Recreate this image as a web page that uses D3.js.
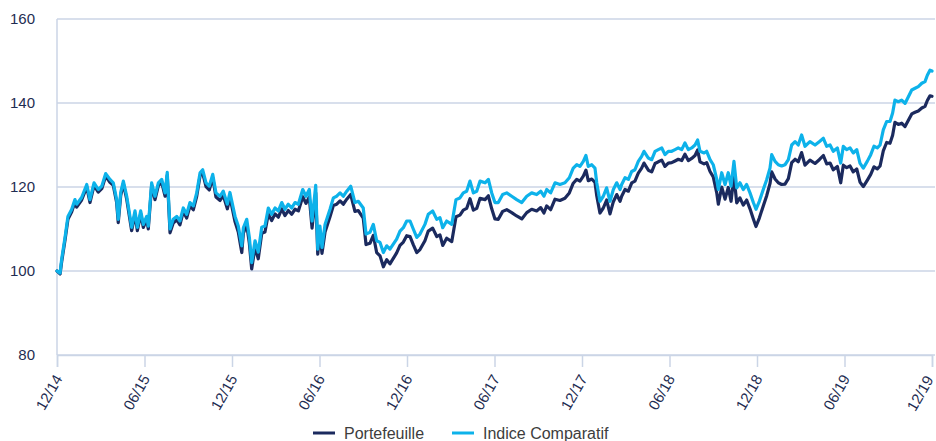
<!DOCTYPE html>
<html>
<head>
<meta charset="utf-8">
<script src="https://cdn.jsdelivr.net/npm/d3@7/dist/d3.min.js"></script>
<style>
  html, body { margin: 0; padding: 0; background: #fff; }
  svg { display: block; font-family: "Liberation Sans", Arial, Helvetica, sans-serif; }
</style>
</head>
<body>
<svg id="chart" width="936" height="441"></svg>
<script>
// Months since 12/2014
const months = [0,0.21,0.32,0.55,0.75,1.01,1.23,1.35,1.69,2.04,2.26,2.54,2.83,3.07,3.34,3.63,3.86,4.09,4.20,4.37,4.55,4.78,5.12,5.35,5.51,5.74,5.92,6.15,6.26,6.49,6.72,6.95,7.18,7.41,7.56,7.75,7.97,8.21,8.43,8.66,8.89,9.12,9.35,9.58,9.81,9.99,10.22,10.44,10.68,10.90,11.18,11.40,11.68,11.86,12.21,12.43,12.67,12.78,13.01,13.19,13.35,13.58,13.80,14.04,14.26,14.49,14.72,14.95,15.18,15.41,15.63,15.86,16.09,16.32,16.55,16.85,17.07,17.30,17.49,17.74,17.88,18.03,18.17,18.38,18.72,18.95,19.18,19.41,19.63,19.87,20.14,20.43,20.66,21.00,21.19,21.46,21.69,21.92,22.15,22.38,22.61,22.83,23.06,23.29,23.52,23.75,23.98,24.21,24.43,24.67,24.89,25.23,25.46,25.76,26.04,26.26,26.45,26.72,27.07,27.36,27.63,27.86,28.09,28.32,28.55,28.78,29.01,29.35,29.58,29.81,30.03,30.26,30.56,30.84,31.18,31.52,31.87,32.21,32.55,32.89,33.17,33.39,33.58,33.85,34.15,34.49,34.83,35.13,35.40,35.64,35.86,36.09,36.27,36.43,36.67,36.89,37.01,37.23,37.46,37.69,37.92,38.15,38.38,38.61,38.72,38.95,39.18,39.41,39.63,39.86,40.09,40.25,40.55,40.78,41.01,41.23,41.47,41.69,41.92,42.15,42.38,42.60,42.84,43.06,43.29,43.52,43.75,43.93,44.09,44.37,44.55,44.78,45.00,45.24,45.35,45.58,45.81,46.03,46.22,46.42,46.61,46.83,47.06,47.29,47.52,47.75,47.93,48.16,48.43,48.67,48.89,49.01,49.24,49.46,49.69,49.92,50.15,50.38,50.61,50.83,51.06,51.29,51.63,51.98,52.27,52.55,52.78,53.01,53.23,53.51,53.74,53.92,54.15,54.38,54.60,54.84,55.06,55.29,55.56,55.80,56.02,56.25,56.44,56.66,56.89,57.12,57.30,57.46,57.69,57.92,58.15,58.38,58.61,58.84,59.06,59.30,59.52,59.68,59.86,60.00];

const indiceComparatif = [100,99.5,102.8,108,113,114.7,117,115.9,117.5,120.6,117,121,119.4,120.2,123.2,121.8,121,117,112.3,118.7,121.4,117.8,110.4,114.3,110.4,114.3,111.1,113,110.7,121,117.8,121,121.8,118.6,123.5,110,112.3,113,111.9,115,113.5,116.3,115.5,118.6,123.4,124.1,121,120.2,123,118.6,117.8,119,115.9,118.7,113,110.7,106,110.3,112.3,108,102,107.2,104.5,110.4,110.7,115,113.5,115,114.3,116.3,114.7,115.9,115,116.3,115.9,119.4,117.8,119.4,111.9,120.4,105.2,110.7,105.6,111.1,114.7,117.4,117.8,118.6,117.8,119,120.2,116.3,116.6,115,108.8,109.2,111.1,107.2,106.8,104.4,106,105.2,106.4,107.6,109.5,110.3,111.9,111.9,110,108,108.8,111.1,113.5,114.3,112.3,112.7,110.3,111.9,111.1,117,117.4,118.6,119,121.4,118.6,119,121.4,121,121.8,118.6,116.3,116.3,118.2,118.6,117.8,117,116.3,117.8,118.6,118.2,119,117.8,119.4,118.6,121,120.6,121,122.2,124.5,125.3,124.9,126.1,127.5,124.9,125.3,124.5,121,116.6,117.8,119.8,116.6,119.4,121,119.4,120.6,122.2,121.8,123.7,124.1,126.1,127.3,128.5,126.9,126.5,128.5,128.9,129.3,127.7,128.5,128.5,128.9,129.3,128.9,130.5,128.9,129.3,130,131.2,128.5,128.1,128.5,126.5,125.3,121.8,119.4,123.4,120.6,123.4,120.2,126.1,119.8,121,119.4,120.6,118.6,116.3,114.7,116.6,119.4,121.8,124.5,127.7,126.1,125.3,125,125.3,126.5,130,130.8,130,132.4,129.7,130.8,130,130.8,131.6,129.7,130,128.5,129.3,125.7,129.7,128.9,129.3,128.1,128.9,125.7,124.5,126.1,127.7,129.7,129.3,130,133.6,135.6,135.6,137.6,140.7,140.3,140.7,139.9,141.5,143.1,143.5,143.9,144.7,145.1,146.6,147.8,147.6];

const portefeuille = [100,99.3,102.2,107.4,112.3,114.1,116.4,115.2,116.9,120.0,116.3,120.4,118.8,119.6,122.6,121.1,120.4,116.3,111.5,118.0,120.8,117.1,109.6,113.6,109.6,113.6,110.4,112.3,110.0,120.3,117.0,120.3,121.1,117.8,122.8,109.1,111.4,112.2,111.0,114.2,112.6,115.5,114.6,117.8,122.7,123.3,120.1,119.3,122.2,117.6,116.8,118.0,114.8,117.6,111.7,109.3,104.4,109.0,111.0,106.6,100.5,105.7,102.9,109.0,109.3,113.6,112.0,113.6,112.8,114.8,113.2,114.4,113.5,114.7,114.3,117.7,116.1,117.6,110.2,118.6,104.0,109.0,104.2,109.3,112.9,115.6,115.9,116.7,115.9,117.1,118.2,114.2,114.4,112.6,106.3,106.6,108.5,104.4,103.6,101.0,102.7,101.7,103.0,104.3,106.1,106.9,108.4,108.2,106.3,104.4,105.1,107.2,109.5,110.2,108.2,108.6,106.1,107.8,107.0,112.9,113.3,114.5,114.9,117.2,114.5,114.9,117.3,117.0,117.9,114.8,112.4,112.3,114.2,114.6,113.9,113.1,112.4,113.9,114.7,114.3,115.1,113.8,115.5,114.6,117.1,116.8,117.3,118.6,120.9,121.8,121.4,122.6,124.0,121.5,121.9,121.1,117.9,113.8,115.0,116.9,113.6,116.5,118.2,116.6,117.8,119.4,119.0,121.0,121.4,123.3,124.5,125.7,124.0,123.6,125.6,126.0,126.4,124.9,125.7,125.8,126.2,126.6,126.3,127.8,126.3,126.8,127.5,128.8,126.0,125.5,125.8,123.7,122.4,118.6,115.9,120.0,117.1,119.9,116.6,122.6,116.2,117.4,115.7,116.9,114.8,112.4,110.6,112.6,115.5,118.0,120.8,123.6,121.9,121.0,120.6,120.7,122.0,125.8,126.6,126.0,128.2,125.2,126.4,125.6,126.5,127.5,125.5,125.7,124.1,124.9,121.0,125.2,124.6,125.0,123.6,124.3,121.2,120.1,121.6,123.0,124.8,124.3,125.0,128.6,130.6,130.4,132.3,135.4,134.9,135.2,134.4,135.9,137.4,137.8,138.1,138.8,139.2,140.6,141.7,141.6];

const seriesNames = ["Portefeuille", "Indice Comparatif"];
const seriesColors = ["#1b2a5e", "#0db2ea"];

const xTickValues = [0, 6, 12, 18, 24, 30, 36, 42, 48, 54, 60];
const xTickLabels = ["12/14", "06/15", "12/15", "06/16", "12/16", "06/17", "12/17", "06/18", "12/18", "06/19", "12/19"];
const yTickValues = [80, 100, 120, 140, 160];

(function () {
  const svg = d3.select("#chart");
  const mLeft = 57, mRight = 932, mTop = 19, mBottom = 355;
  const gridColor = "#cbd5e6";
  const textColor = "#1f2d52";
  const fontFam = '"Liberation Sans", Arial, sans-serif';

  const x = d3.scaleLinear().domain([0, 60]).range([mLeft, mRight]);
  const y = d3.scaleLinear().domain([80, 160]).range([mBottom, mTop]);

  // Horizontal gridlines
  svg.append("g")
    .selectAll("line")
    .data(yTickValues)
    .join("line")
    .attr("x1", mLeft).attr("x2", 935)
    .attr("y1", d => y(d)).attr("y2", d => y(d))
    .attr("stroke", gridColor).attr("stroke-width", 1.5);

  // Left axis line
  svg.append("line")
    .attr("x1", mLeft).attr("x2", mLeft)
    .attr("y1", y(160)).attr("y2", mBottom)
    .attr("stroke", gridColor).attr("stroke-width", 1.5);

  // Y axis labels
  const yAxis = d3.axisLeft(y).tickValues(yTickValues).tickSize(0).tickPadding(22);
  const gy = svg.append("g").attr("transform", `translate(${mLeft},0)`).call(yAxis);
  gy.select(".domain").remove();
  gy.selectAll("text")
    .attr("fill", textColor)
    .style("font-size", "15px")
    .style("font-family", fontFam);

  // X axis
  const xAxis = d3.axisBottom(x).tickValues(xTickValues)
    .tickFormat((d, i) => xTickLabels[i]).tickSize(12).tickPadding(4);
  const gx = svg.append("g").attr("transform", `translate(0,${mBottom})`).call(xAxis);
  gx.select(".domain").attr("stroke", gridColor).attr("stroke-width", 1.5);
  gx.selectAll(".tick line").attr("stroke", gridColor).attr("stroke-width", 1.5);
  const lastIdx = xTickValues.length - 1;
  gx.selectAll("text")
    .attr("fill", textColor)
    .style("font-size", "15px")
    .style("font-family", fontFam)
    .attr("text-anchor", "end")
    .attr("x", 0).attr("y", 0)
    .attr("dy", "0.35em")
    .attr("transform", (d, i) => i === lastIdx ? "translate(-3,22) rotate(-60)" : "translate(1,21) rotate(-60)");

  // Lines
  const seriesData = [portefeuille, indiceComparatif];
  const line = d3.line()
    .x((d, i) => x(months[i]))
    .y(d => y(d));

  svg.append("g")
    .selectAll("path")
    .data(seriesData)
    .join("path")
    .attr("d", d => line(d))
    .attr("fill", "none")
    .attr("stroke", (d, i) => seriesColors[i])
    .attr("stroke-width", 3.2)
    .attr("stroke-linejoin", "round")
    .attr("stroke-linecap", "round");

  // Legend
  const legend = svg.append("g").attr("transform", "translate(0,433)");
  const legendX = [313, 452];
  const items = legend.selectAll("g")
    .data(seriesNames)
    .join("g")
    .attr("transform", (d, i) => `translate(${legendX[i]},0)`);
  items.append("line")
    .attr("x1", 0).attr("x2", 22)
    .attr("y1", 0).attr("y2", 0)
    .attr("stroke", (d, i) => seriesColors[i])
    .attr("stroke-width", 3);
  items.append("text")
    .attr("x", 31).attr("y", 0)
    .attr("dy", "0.35em")
    .attr("fill", "#3d3d3d")
    .style("font-size", "16px")
    .style("font-family", fontFam)
    .text(d => d);
})();
</script>
</body>
</html>
